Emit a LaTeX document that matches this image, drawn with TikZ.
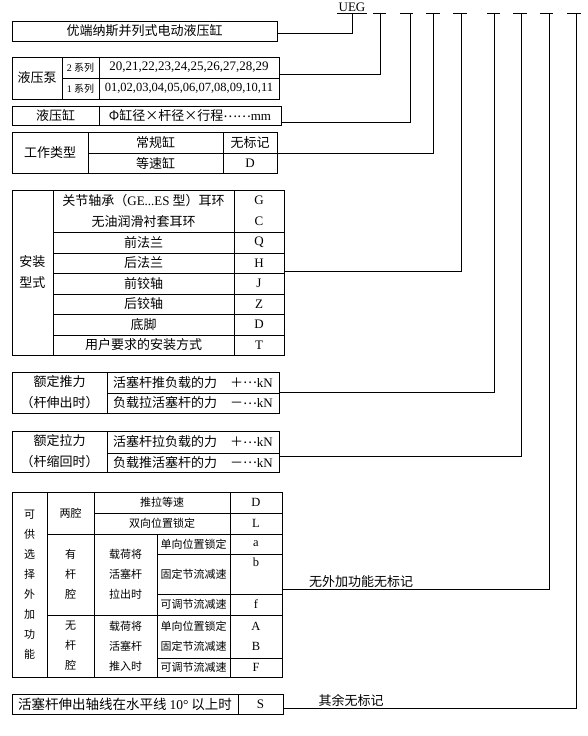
\documentclass[tikz,border=0pt]{standalone}
\usepackage{fontspec}
\setmainfont{Liberation Serif}
\newfontfamily\cjk{Noto Sans CJK SC}
\usepackage{tikz}
\usetikzlibrary{positioning,calc}
\newcommand{\middots}{\raisebox{3.5pt}{…}}
\tikzset{
    cell/.style={rectangle, draw, line width=1pt, inner sep=0pt, outer sep=0pt, anchor=north west, align=center, font=\cjk\fontsize{13}{21}\selectfont},
    codecell/.style={cell, font=\rmfamily\fontsize{13}{21}\selectfont},
    smallcell/.style={cell, font=\cjk\fontsize{11}{20}\selectfont},
    smallcode/.style={cell, font=\rmfamily\fontsize{12.5}{20}\selectfont},
    link/.style={line width=1pt},
    remark/.style={inner sep=0pt, font=\cjk\fontsize{13}{15}\selectfont},
}

\begin{document}
\begin{tikzpicture}[x=1pt, y=-1pt]
    \useasboundingbox (0,0) rectangle (588,736);

    % Model code header
    \node[inner sep=1pt, anchor=south, font=\rmfamily\fontsize{13}{15}\selectfont] (ueg) at (352,13) {UEG};
    \draw[link] (ueg.south west) -- (ueg.south east);
    \coordinate (s1) at (380,13);
    \coordinate (s2) at (410,13);
    \coordinate (s3) at (433,13);
    \coordinate (s4) at (461,13);
    \coordinate (s5) at (494,13);
    \coordinate (s6) at (521,13);
    \coordinate (s7) at (549,13);
    \coordinate (s8) at (576,13);
    \draw[link] ([xshift=-7pt]s1) -- ([xshift=6pt]s1);
    \draw[link] ([xshift=-10pt]s2) -- ([xshift=3pt]s2);
    \draw[link] ([xshift=-7pt]s3) -- ([xshift=7pt]s3);
    \draw[link] ([xshift=-8pt]s4) -- ([xshift=6pt]s4);
    \draw[link] ([xshift=-7pt]s5) -- ([xshift=6pt]s5);
    \draw[link] ([xshift=-8pt]s6) -- ([xshift=6pt]s6);
    \draw[link] ([xshift=-9pt]s7) -- ([xshift=4pt]s7);
    \draw[link] ([xshift=-9pt]s8) -- ([xshift=5pt]s8);

    % Product name
    \node[cell, minimum width=265pt, minimum height=20pt] (title) at (12,21) {优端纳斯并列式电动液压缸};

    % Pump
    \node[cell, minimum width=50pt, minimum height=42pt] (pumpname) at (12,57) {液压泵};
    \node[cell, minimum width=37pt, minimum height=21pt, font=\cjk\fontsize{10}{12}\selectfont] (series2) at (pumpname.north east) {{\rmfamily 2} 系列};
    \node[cell, minimum width=37pt, minimum height=21pt, font=\cjk\fontsize{10}{12}\selectfont] (series1) at (series2.south west) {{\rmfamily 1} 系列};
    \node[codecell, minimum width=180pt, minimum height=21pt] (num2) at (series2.north east) {20,21,22,23,24,25,26,27,28,29};
    \node[codecell, minimum width=180pt, minimum height=21pt, font=\rmfamily\fontsize{12.5}{15}\selectfont] (num1) at (num2.south west) {01,02,03,04,05,06,07,08,09,10,11};

    % Cylinder size
    \node[cell, minimum width=87pt, minimum height=19pt] (cylname) at (12,106) {液压缸};
    \node[cell, minimum width=182pt, minimum height=19pt] (cylsize) at (cylname.north east) {Φ缸径×杆径×行程\middots\middots{\rmfamily mm}};

    % Working type
    \node[cell, minimum width=76pt, minimum height=41pt] (workname) at (12,132) {工作类型};
    \node[cell, minimum width=135pt, minimum height=21pt] (std) at (workname.north east) {常规缸};
    \node[cell, minimum width=54pt, minimum height=21pt] (stdcode) at (std.north east) {无标记};
    \node[cell, minimum width=135pt, minimum height=20pt] (equal) at (std.south west) {等速缸};
    \node[codecell, minimum width=54pt, minimum height=20pt] (equalcode) at (equal.north east) {D};

    % Mounting
    \node[cell, minimum width=41pt, minimum height=165pt] (mountname) at (12,190) {安装\\型式};
    \node[cell, minimum width=181pt, minimum height=42pt] (eye) at (mountname.north east) {关节轴承（{\rmfamily GE...ES} 型）耳环\\无油润滑衬套耳环};
    \node[codecell, minimum width=50pt, minimum height=42pt] (eyecode) at (eye.north east) {G\\C};
    \node[cell, minimum width=181pt, minimum height=21pt] (fflange) at (eye.south west) {前法兰};
    \node[codecell, minimum width=50pt, minimum height=21pt] (fflangecode) at (fflange.north east) {Q};
    \node[cell, minimum width=181pt, minimum height=20pt] (rflange) at (fflange.south west) {后法兰};
    \node[codecell, minimum width=50pt, minimum height=20pt] (rflangecode) at (rflange.north east) {H};
    \node[cell, minimum width=181pt, minimum height=21pt] (ftrun) at (rflange.south west) {前铰轴};
    \node[codecell, minimum width=50pt, minimum height=21pt] (ftruncode) at (ftrun.north east) {J};
    \node[cell, minimum width=181pt, minimum height=20pt] (rtrun) at (ftrun.south west) {后铰轴};
    \node[codecell, minimum width=50pt, minimum height=20pt] (rtruncode) at (rtrun.north east) {Z};
    \node[cell, minimum width=181pt, minimum height=21pt] (foot) at (rtrun.south west) {底脚};
    \node[codecell, minimum width=50pt, minimum height=21pt] (footcode) at (foot.north east) {D};
    \node[cell, minimum width=181pt, minimum height=20pt] (custom) at (foot.south west) {用户要求的安装方式};
    \node[codecell, minimum width=50pt, minimum height=20pt] (customcode) at (custom.north east) {T};

    % Rated push force
    \node[cell, minimum width=95pt, minimum height=41pt] (pushname) at (12,372) {额定推力\\（杆伸出时）};
    \node[cell, minimum width=172pt, minimum height=21pt] (push1) at (pushname.north east) {活塞杆推负载的力\quad ＋\middots{\rmfamily kN}};
    \node[cell, minimum width=172pt, minimum height=20pt] (push2) at (push1.south west) {负载拉活塞杆的力\quad －\middots{\rmfamily kN}};

    % Rated pull force
    \node[cell, minimum width=95pt, minimum height=41pt] (pullname) at (12,431) {额定拉力\\（杆缩回时）};
    \node[cell, minimum width=172pt, minimum height=22pt] (pull1) at (pullname.north east) {活塞杆拉负载的力\quad ＋\middots{\rmfamily kN}};
    \node[cell, minimum width=172pt, minimum height=19pt] (pull2) at (pull1.south west) {负载推活塞杆的力\quad －\middots{\rmfamily kN}};

    % Optional functions
    \node[smallcell, minimum width=35pt, minimum height=185pt] (optname) at (12,492) {可\\供\\选\\择\\外\\加\\功\\能};
    \node[smallcell, minimum width=47pt, minimum height=42pt] (both) at (optname.north east) {两腔};
    \node[smallcell, minimum width=136pt, minimum height=21pt] (sync) at (both.north east) {推拉等速};
    \node[smallcode, minimum width=52pt, minimum height=21pt] (synccode) at (sync.north east) {D};
    \node[smallcell, minimum width=136pt, minimum height=21pt] (lock2) at (sync.south west) {双向位置锁定};
    \node[smallcode, minimum width=52pt, minimum height=21pt] (lock2code) at (lock2.north east) {L};
    \node[smallcell, minimum width=47pt, minimum height=81pt] (rodside) at (both.south west) {有\\杆\\腔};
    \node[smallcell, minimum width=63pt, minimum height=81pt] (rodload) at (rodside.north east) {载荷将\\活塞杆\\拉出时};
    \node[smallcell, minimum width=73pt, minimum height=20pt] (lock1) at (rodload.north east) {单向位置锁定};
    \node[smallcode, minimum width=52pt, minimum height=20pt] (lock1code) at (lock1.north east) {a};
    \node[smallcell, minimum width=73pt, minimum height=40pt] (fixed) at (lock1.south west) {固定节流减速};
    \node[smallcode, minimum width=52pt, minimum height=40pt] (fixedcode) at (fixed.north east) {};
    \node[inner sep=0pt, font=\rmfamily\fontsize{12.5}{15}\selectfont, below=4pt of fixedcode.north] (fixedval) {b};
    \node[smallcell, minimum width=73pt, minimum height=21pt] (adjust) at (fixed.south west) {可调节流减速};
    \node[smallcode, minimum width=52pt, minimum height=21pt] (adjustcode) at (adjust.north east) {f};
    \node[smallcell, minimum width=47pt, minimum height=62pt] (capside) at (rodside.south west) {无\\杆\\腔};
    \node[smallcell, minimum width=63pt, minimum height=62pt] (capload) at (capside.north east) {载荷将\\活塞杆\\推入时};
    \node[smallcell, minimum width=73pt, minimum height=43pt] (caplock) at (capload.north east) {单向位置锁定\\固定节流减速};
    \node[smallcode, minimum width=52pt, minimum height=43pt] (caplockcode) at (caplock.north east) {A\\B};
    \node[smallcell, minimum width=73pt, minimum height=19pt] (capadjust) at (caplock.south west) {可调节流减速};
    \node[smallcode, minimum width=52pt, minimum height=19pt] (capadjustcode) at (capadjust.north east) {F};

    % Inclined rod
    \node[cell, minimum width=226pt, minimum height=20pt, font=\cjk\fontsize{13.5}{15}\selectfont] (incline) at (12,694) {活塞杆伸出轴线在水平线 {\rmfamily 10°} 以上时};
    \node[codecell, minimum width=45pt, minimum height=20pt] (inclinecode) at (incline.north east) {S};

    % Leader lines
    \draw[link] ([yshift=-2pt]title.east) -| (ueg.south);
    \draw[link] ([yshift=4pt]num2.south east) -| (s1);
    \draw[link] ([yshift=-6.5pt]cylsize.east) -| (s2);
    \draw[link] (stdcode.south east) -| (s3);
    \draw[link] ([yshift=2pt]ftruncode.north east) -| (s4);
    \draw[link] ([yshift=1pt]push1.south east) -| (s5);
    \draw[link] ([yshift=-3pt]pull1.south east) -| (s6);
    \draw[link] ([yshift=5pt]fixedcode.south east) -| (s7);
    \draw[link] ([yshift=-4pt]inclinecode.east) -| (s8);

    % Notes
    \node[remark] (noextra) at (361,582) {无外加功能无标记};
    \node[remark] (others) at (351,700) {其余无标记};
\end{tikzpicture}
\end{document}
